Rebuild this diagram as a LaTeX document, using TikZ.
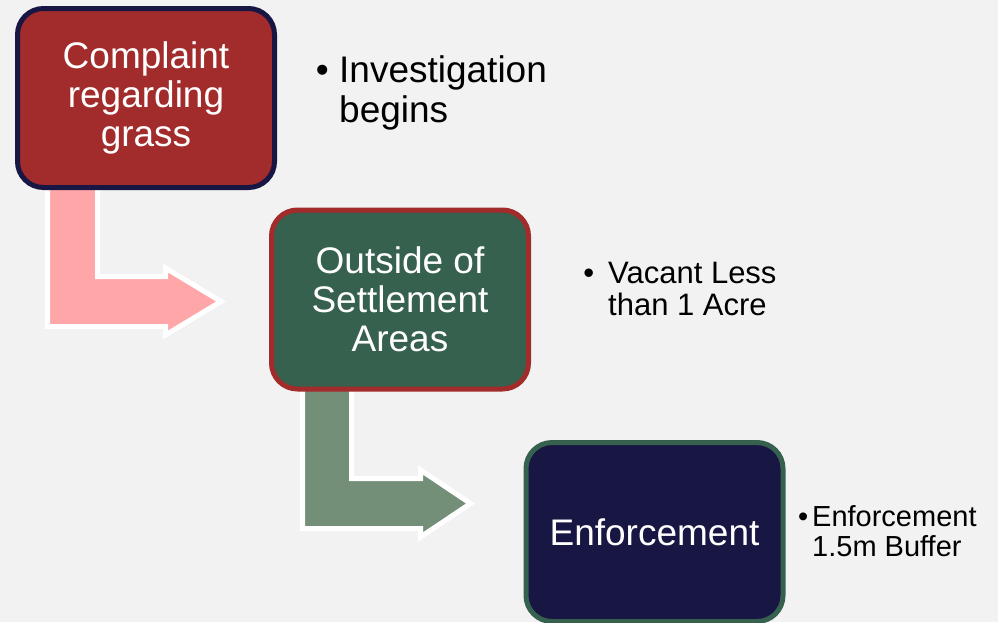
\documentclass[tikz,border=0pt]{standalone}
\usepackage{fontspec}
\setmainfont{Liberation Sans}
\definecolor{pagebg}{HTML}{F2F2F2}
\definecolor{brick}{HTML}{A22B2B}
\definecolor{pine}{HTML}{36614E}
\definecolor{midnight}{HTML}{181643}
\definecolor{rosefill}{HTML}{FFA6A8}
\definecolor{sagefill}{HTML}{748F77}
\tikzset{
  stagebox/.style={rectangle, rounded corners=26pt, line width=5pt,
    minimum width=257pt, minimum height=179pt, inner sep=0pt,
    text=white, align=center, font=\fontsize{37}{39}\selectfont},
  bentarrow/.style={draw=white, line width=5pt, line join=miter, miter limit=10},
  notetext/.style={anchor=north west, inner sep=0pt, align=left, text=black}
}
\begin{document}
\begin{tikzpicture}[x=1pt, y=-1pt]
  % canvas
  \fill[pagebg] (0,0) rectangle (998,622);
  \useasboundingbox (0,0) rectangle (998,622);

  % bent arrows between the stages (drawn first, boxes sit on top)
  \filldraw[bentarrow, fill=rosefill]
    (47.5,180) -- (97.5,180) -- (97.5,276.5) -- (165.5,276.5) -- (165.5,268)
    -- (221,301.5) -- (165.5,335) -- (165.5,326.5) -- (47.5,326.5) -- cycle;
  \filldraw[bentarrow, fill=sagefill]
    (302.5,385) -- (351.5,385) -- (351.5,478.5) -- (420.5,478.5) -- (420.5,470)
    -- (470.5,503.5) -- (420.5,537) -- (420.5,528.5) -- (302.5,528.5) -- cycle;

  % stages
  \node[stagebox, fill=brick, draw=midnight] (complaint) at (146,98)
    {Complaint\\regarding\\grass};
  \node[stagebox, fill=pine, draw=brick] (outside) at (400,299.5)
    {Outside of\\Settlement\\Areas};
  \node[stagebox, fill=midnight, draw=pine] (enforce) at (654.5,532)
    {Enforcement};

  % notes
  \node[notetext, font=\fontsize{37}{40}\selectfont] (note1) at (339,55)
    {\llap{•\hspace{10.5pt}}Investigation\\begins};
  \node[notetext, font=\fontsize{31}{32}\selectfont] (note2) at (608,262)
    {\llap{•\hspace{14pt}}Vacant Less\\than 1 Acre};
  \node[notetext, font=\fontsize{29}{30}\selectfont] (note3) at (812,505)
    {\llap{•\hspace{4pt}}Enforcement\\1.5m Buffer};
\end{tikzpicture}
\end{document}
